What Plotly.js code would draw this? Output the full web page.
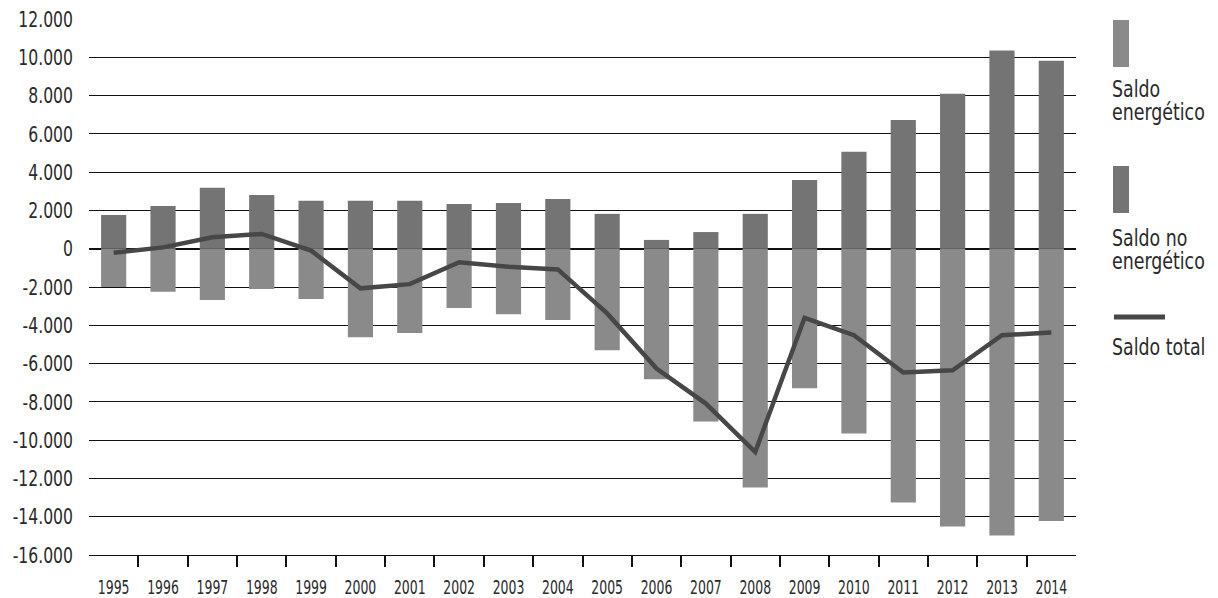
<!DOCTYPE html>
<html>
<head>
<meta charset="utf-8">
<script src="https://cdn.plot.ly/plotly-3.0.1.min.js"></script>
<style>html,body{margin:0;padding:0;background:#fff}#chart{width:1218px;height:598px}</style>
</head>
<body>
<div id="chart"></div>
<script>
const years = ["1995","1996","1997","1998","1999","2000","2001","2002","2003","2004","2005","2006","2007","2008","2009","2010","2011","2012","2013","2014"];
const saldoEnergetico = [-2000,-2250,-2680,-2110,-2630,-4620,-4400,-3100,-3420,-3730,-5300,-6820,-9020,-12470,-7290,-9650,-13260,-14510,-14980,-14230];
const saldoNoEnergetico = [1760,2230,3180,2810,2500,2500,2500,2340,2390,2600,1820,460,870,1820,3590,5060,6730,8100,10350,9820];
const saldoTotal = [-210,70,600,770,-100,-2070,-1850,-710,-940,-1080,-3380,-6260,-8090,-10620,-3610,-4520,-6470,-6350,-4520,-4380];
const yTickVals = [-16000,-14000,-12000,-10000,-8000,-6000,-4000,-2000,0,2000,4000,6000,8000,10000,12000];
const yTickText = ["-16.000","-14.000","-12.000","-10.000","-8.000","-6.000","-4.000","-2.000","0","2.000","4.000","6.000","8.000","10.000","12.000"];
const legendTexts = ["Saldo<br>energético", "Saldo no<br>energético", "Saldo total"];

const FONT = "'DejaVu Sans Condensed', 'DejaVu Sans', sans-serif";
const C_EN = "#8a8a8a", C_NO = "#747474", C_TOT = "#474747", TXT = "#2a2a2a";

const M = {l: 89, r: 142, t: 19, b: 43};
const W = 1218, H = 598;
const PW = W - M.l - M.r, PH = H - M.t - M.b;
const px = x => (x - M.l) / PW;
const py = y => 1 - (y - M.t) / PH;

const traces = [
  {type: "bar", x: years, y: saldoEnergetico, name: "Saldo energético", marker: {color: C_EN, line: {width: 0}}, width: 0.51},
  {type: "bar", x: years, y: saldoNoEnergetico, name: "Saldo no energético", marker: {color: C_NO, line: {width: 0}}, width: 0.51},
  {type: "scatter", mode: "lines", x: years, y: saldoTotal, name: "Saldo total", line: {color: C_TOT, width: 4.5}}
];

const shapes = [
  {type: "rect", xref: "paper", yref: "paper", x0: px(1113), x1: px(1129), y0: py(67), y1: py(20), fillcolor: C_EN, line: {width: 0}},
  {type: "rect", xref: "paper", yref: "paper", x0: px(1113), x1: px(1129), y0: py(213), y1: py(166), fillcolor: C_NO, line: {width: 0}},
  {type: "line", xref: "paper", yref: "paper", x0: px(1114), x1: px(1165), y0: py(317), y1: py(317), line: {color: C_TOT, width: 5}}
];

const LEG_SIZE = 23;
function lab(text, yTop) {
  return {xref: "paper", yref: "paper", x: px(1111), y: py(yTop), xanchor: "left", yanchor: "top",
          text: text, showarrow: false, align: "left", borderpad: 0,
          font: {family: FONT, size: LEG_SIZE, color: TXT}};
}
const annotations = [
  lab(legendTexts[0], 75),
  lab(legendTexts[1], 224.5),
  lab(legendTexts[2], 332.5)
];

const layout = {
  width: W, height: H,
  margin: M,
  paper_bgcolor: "#fff", plot_bgcolor: "#fff",
  barmode: "relative",
  showlegend: false,
  font: {family: FONT, color: TXT},
  xaxis: {
    type: "category",
    tickson: "boundaries",
    tickangle: 0,
    ticks: "outside", ticklen: 11, tickwidth: 2, tickcolor: "#111",
    ticklabelstandoff: 15,
    showgrid: false, showline: true, linecolor: "#111", linewidth: 1,
    tickfont: {family: FONT, size: 19.5, color: TXT},
    zeroline: false
  },
  yaxis: {
    range: [-16000, 12000],
    tickmode: "array", tickvals: yTickVals, ticktext: yTickText,
    showgrid: true, gridcolor: "#111", gridwidth: 1,
    zeroline: true, zerolinecolor: "#111", zerolinewidth: 2.2,
    ticks: "", ticklabelstandoff: 15,
    tickfont: {family: FONT, size: 22, color: TXT},
    showline: false
  },
  shapes: shapes,
  annotations: annotations
};

// narrow the DejaVu glyphs to mimic the condensed typeface of the original
function squeezeEl(el, factor) {
  const w = el.getComputedTextLength();
  if (w > 0) {
    el.setAttribute("textLength", (w * factor).toFixed(2));
    el.setAttribute("lengthAdjust", "spacingAndGlyphs");
  }
  return w * factor;
}
function squeeze(selector, factor) {
  document.querySelectorAll(selector).forEach(t => {
    const lines = t.querySelectorAll("tspan.line");
    if (lines.length) lines.forEach(l => squeezeEl(l, factor));
    else squeezeEl(t, factor);
  });
}

Plotly.newPlot("chart", traces, layout, {displayModeBar: false, staticPlot: true}).then(() => {
  squeeze(".xtick text", 0.71);
  squeeze(".ytick text", 0.79);

  // the original has tick marks only between years, not at the two outer edges
  const tickPaths = Array.from(document.querySelectorAll("path.xtick.ticks"));
  const tx = p => {
    const m = /translate\(\s*([-\d.]+)/.exec(p.getAttribute("transform") || "");
    return m ? parseFloat(m[1]) : NaN;
  };
  if (tickPaths.length > 2) {
    const xs = tickPaths.map(tx).filter(v => !isNaN(v));
    const lo = Math.min(...xs), hi = Math.max(...xs);
    tickPaths.forEach(p => { const v = tx(p); if (v === lo || v === hi) p.style.display = "none"; });
  }

  document.querySelectorAll(".annotation").forEach(g => {
    const t = g.querySelector("text.annotation-text");
    if (!t) return;
    const lines = t.querySelectorAll("tspan.line");
    let maxW = 0;
    if (lines.length) {
      lines.forEach((l, i) => {
        maxW = Math.max(maxW, squeezeEl(l, 0.84));
        if (i > 0) l.setAttribute("dy", "1.0em");
      });
    } else {
      maxW = squeezeEl(t, 0.84);
    }
    const bg = g.querySelector("rect.bg");
    if (bg) {
      bg.setAttribute("width", (maxW + 2).toFixed(1));
      if (lines.length > 1) bg.setAttribute("height", (LEG_SIZE * (1.0 * (lines.length - 1) + 1.17)).toFixed(1));
    }
  });
});
</script>
</body>
</html>
